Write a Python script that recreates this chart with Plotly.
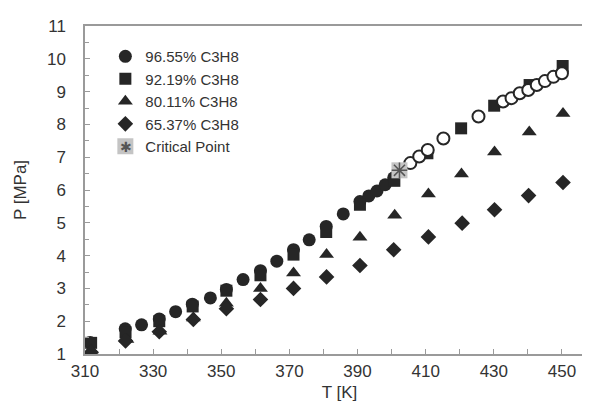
import plotly.graph_objects as go

# 96.55% C3H8 (filled circles)
t_9655 = [311.5, 321.8, 326.6, 331.8, 336.6, 341.5, 346.8, 351.5, 356.4, 361.5, 366.3, 371.2,
          375.8, 380.8, 385.8, 390.7, 393.3, 395.7, 398.1, 400.6]
p_9655 = [1.35, 1.77, 1.89, 2.07, 2.29, 2.52, 2.71, 2.97, 3.27, 3.54, 3.83, 4.18,
          4.48, 4.89, 5.27, 5.65, 5.82, 5.97, 6.16, 6.37]
# 96.55% C3H8 above the critical point (open circles)
t_9655_open = [405.5, 408.1, 410.6, 415.2, 425.5, 432.7, 435.2, 437.6, 440.1, 442.6, 445.0, 447.5, 450.0]
p_9655_open = [6.82, 7.02, 7.22, 7.57, 8.24, 8.70, 8.80, 8.95, 9.05, 9.20, 9.32, 9.45, 9.56]
# 92.19% C3H8 (squares)
t_9219 = [311.8, 321.9, 331.8, 341.6, 351.5, 361.5, 371.2, 380.8, 390.7, 400.8, 410.5, 420.4, 430.1, 440.5, 450.2]
p_9219 = [1.34, 1.66, 2.00, 2.45, 2.93, 3.40, 4.03, 4.72, 5.55, 6.28, 7.12, 7.88, 8.57, 9.20, 9.78]
# 80.11% C3H8 (triangles)
t_8011 = [311.8, 322.3, 332.0, 341.8, 351.5, 361.5, 371.2, 380.9, 390.7, 400.9, 410.8, 420.5, 430.2, 440.4, 450.3]
p_8011 = [1.12, 1.44, 1.69, 2.10, 2.55, 3.00, 3.47, 4.03, 4.56, 5.23, 5.88, 6.49, 7.16, 7.77, 8.33]
# 65.37% C3H8 (diamonds)
t_6537 = [311.8, 321.9, 331.8, 341.8, 351.5, 361.5, 371.2, 380.9, 390.7, 400.6, 410.8, 420.7, 430.2, 440.2, 450.3]
p_6537 = [1.05, 1.40, 1.68, 2.05, 2.38, 2.66, 3.00, 3.35, 3.70, 4.18, 4.57, 4.99, 5.40, 5.83, 6.23]
# Critical point
t_crit = [402.3]
p_crit = [6.60]

names = ["96.55% C3H8", "92.19% C3H8", "80.11% C3H8", "65.37% C3H8", "Critical Point"]

DARK = "#262626"
FONT = "Liberation Sans, Arial, sans-serif"
TXT = "#333333"

fig = go.Figure()
fig.add_trace(go.Scatter(x=t_9655, y=p_9655, mode="markers", name=names[0],
                         marker=dict(symbol="circle", size=13, color=DARK)))
fig.add_trace(go.Scatter(x=t_9219, y=p_9219, mode="markers", name=names[1],
                         marker=dict(symbol="square", size=12, color=DARK)))
fig.add_trace(go.Scatter(x=t_8011, y=p_8011, mode="markers", name=names[2],
                         marker=dict(symbol="triangle-up", size=13, color=DARK)))
fig.add_trace(go.Scatter(x=t_6537, y=p_6537, mode="markers", name=names[3],
                         marker=dict(symbol="diamond", size=12, color=DARK)))
fig.add_trace(go.Scatter(x=t_9655_open, y=p_9655_open, mode="markers", showlegend=False,
                         marker=dict(symbol="circle", size=12, color="white",
                                     line=dict(color=DARK, width=2))))
fig.add_trace(go.Scatter(x=t_crit, y=p_crit, mode="markers", name=names[4],
                         marker=dict(symbol="square", size=16, color="#c4c4c4")))
fig.add_trace(go.Scatter(x=t_crit, y=p_crit, mode="markers", showlegend=False,
                         marker=dict(symbol="asterisk-open", size=13, color="#555555",
                                     line=dict(color="#555555", width=1.5))))

axis_common = dict(showline=True, linecolor="#9a9a9a", linewidth=1.5, mirror=True,
                   ticks="inside", tickcolor="#9a9a9a", ticklen=5, tickwidth=1.2,
                   showgrid=False, zeroline=False,
                   tickfont=dict(family=FONT, size=17, color=TXT))

fig.update_xaxes(range=[310, 459.4], tick0=310, dtick=20,
                 minor=dict(dtick=10, ticks="inside", ticklen=5, tickcolor="#9a9a9a"),
                 ticklabelstandoff=1,
                 title=dict(text="T [K]", font=dict(family=FONT, size=17, color=TXT), standoff=6),
                 **axis_common)
fig.update_yaxes(range=[1, 11], tick0=1, dtick=1,
                 minor=dict(dtick=0.5, ticks="inside", ticklen=4, tickcolor="#9a9a9a"),
                 ticklabelstandoff=14,
                 title=dict(text="P [MPa]", font=dict(family=FONT, size=17, color=TXT), standoff=16),
                 **axis_common)

fig.update_layout(
    width=590, height=408,
    margin=dict(l=77, r=2, t=18, b=62),
    paper_bgcolor="white", plot_bgcolor="white",
    showlegend=True,
    legend=dict(x=0.04, y=0.957, xanchor="left", yanchor="top",
                bgcolor="rgba(0,0,0,0)", font=dict(family=FONT, size=15, color=TXT),
                itemsizing="trace"),
    annotations=[dict(text="✱", xref="paper", yref="paper", x=0.081, y=0.632,
                      xanchor="center", yanchor="middle", showarrow=False,
                      font=dict(family="DejaVu Sans", size=14, color="#555555"))],
)

fig.write_html("out.html")
